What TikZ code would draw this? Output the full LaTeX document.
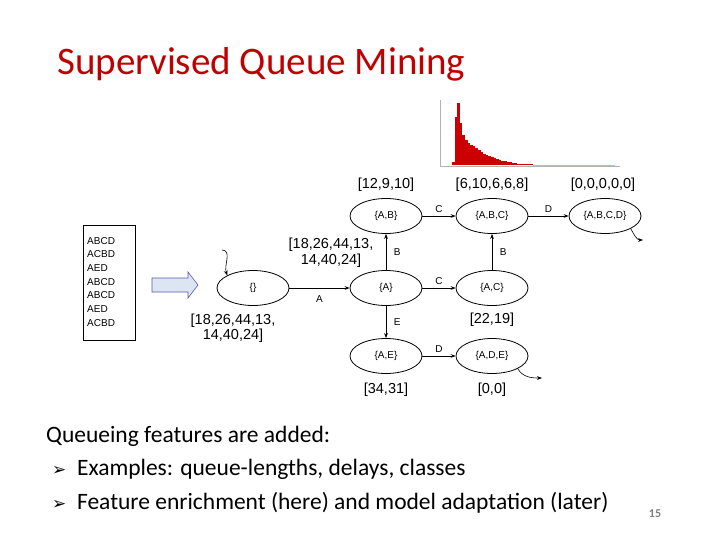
\documentclass[tikz,border=0pt]{standalone}
\usepackage{fontspec}
\setmainfont{Carlito}
\newfontfamily\arialf{Liberation Sans}
\usetikzlibrary{shapes.geometric,arrows.meta}
\definecolor{titlered}{RGB}{192,0,0}
\definecolor{arrowblue}{RGB}{220,230,242}
\begin{document}
\begin{tikzpicture}[x=1pt,y=-1pt,
  st/.style={ellipse,draw,line width=0.8pt,minimum width=72pt,minimum height=35pt,inner sep=0pt,font=\arialf\fontsize{10}{11}\selectfont},
  lbl/.style={font=\arialf\fontsize{14.5}{15.5}\selectfont,align=center},
  el/.style={font=\arialf\fontsize{10}{11}\selectfont},
  ed/.style={draw,line width=0.9pt,-{Stealth[length=5pt]}},
  trace/.style={font=\arialf\fontsize{10}{11}\selectfont,anchor=west,inner sep=0pt},
  btxt/.style={anchor=west,font=\fontsize{23.5}{26}\selectfont,inner sep=0pt}]
\useasboundingbox (0,0) rectangle (720,540);
\node[anchor=west,text=titlered,font=\fontsize{39}{42}\selectfont,inner sep=0pt] (title) at (57,64) {Supervised Queue Mining};
% histogram
\draw[gray!60,line width=0.3pt] (440,100) -- (440,166) -- (620,166);
\foreach \i/\h in {0/3,1/48,2/62,3/42,4/30,5/25,6/22,7/20,8/19,9/17,10/15,11/13,12/11,13/10,14/9,15/8,16/7,17/6,18/5,19/4,20/3.5,21/3,22/2.5,23/2,24/1.5,25/1.2,26/1,27/1,28/0.8,29/0.6,30/0.5}
  \fill[red!80!black] ({452+\i*2.6},165) rectangle ++(2.6,-\h);
\draw[orange!60,line width=0.6pt] (533,165) -- (615,165);
% trace box
\draw[line width=0.6pt] (83,225) rectangle (135,340);
\foreach \t [count=\k] in {ABCD,ACBD,AED,ABCD,ABCD,AED,ACBD}
  \node[trace] (t\k) at (87,{227+\k*13.7}) {\t};
\draw[fill=arrowblue,draw=gray!70!blue,line width=0.6pt] (152,278) -- (188,278) -- (188,272) -- (198,285) -- (188,298) -- (188,292) -- (152,292) -- cycle;
% states
\node[st] (e) at (253,288) {\{\}};
\node[st] (a) at (386,288) {\{A\}};
\node[st] (ac) at (492,288) {\{A,C\}};
\node[st] (ab) at (386,216) {\{A,B\}};
\node[st] (abc) at (492,216) {\{A,B,C\}};
\node[st] (abcd) at (605,216) {\{A,B,C,D\}};
\node[st] (ae) at (386,356) {\{A,E\}};
\node[st] (ade) at (492,356) {\{A,D,E\}};
\draw[ed] (e) -- node[el,below=4pt] {A} (a);
\draw[ed] (a) -- node[el,above] {C} (ac);
\draw[ed] (a) -- node[el,right=4pt] {B} (ab);
\draw[ed] (a) -- node[el,right=4pt] {E} (ae);
\draw[ed] (ab) -- node[el,above] {C} (abc);
\draw[ed] (ac) -- node[el,right=4pt] {B} (abc);
\draw[ed] (abc) -- node[el,above] {D} (abcd);
\draw[ed] (ae) -- node[el,above] {D} (ade);
\coordinate (in0) at (222,250);
\coordinate (o1) at (643,240);
\coordinate (o2) at (542,378);
\draw[ed,line width=0.6pt] (in0) to[out=0,in=110] (e.north west);
\draw[ed,line width=0.6pt] (abcd.south east) to[out=-60,in=180] (o1);
\draw[ed,line width=0.6pt] (ade.south east) to[out=-60,in=180] (o2);
% labels
\node[lbl] (l1) at (386,185) {[12,9,10]};
\node[lbl] (l2) at (492,185) {[6,10,6,6,8]};
\node[lbl] (l3) at (603,185) {[0,0,0,0,0]};
\node[lbl] (l4) at (331,253) {[18,26,44,13,\\ 14,40,24]};
\node[lbl] (l5) at (233,328) {[18,26,44,13,\\ 14,40,24]};
\node[lbl] (l6) at (492,320) {[22,19]};
\node[lbl] (l7) at (386,390) {[34,31]};
\node[lbl] (l8) at (492,390) {[0,0]};
% bottom text
\node[btxt] (b1) at (46,436) {Queueing features are added:};
\node[btxt] (b2) at (52,469) {{\fontspec{DejaVu Sans}\fontsize{17}{18}\selectfont\bfseries ➢}\ \ Examples: queue-lengths, delays, classes};
\node[btxt] (b3) at (52,503) {{\fontspec{DejaVu Sans}\fontsize{17}{18}\selectfont\bfseries ➢}\ \ Feature enrichment (here) and model adaptation (later)};
\node[font=\bfseries\fontsize{12}{14}\selectfont,text=gray] (pg) at (655,514) {15};
\end{tikzpicture}
\end{document}
